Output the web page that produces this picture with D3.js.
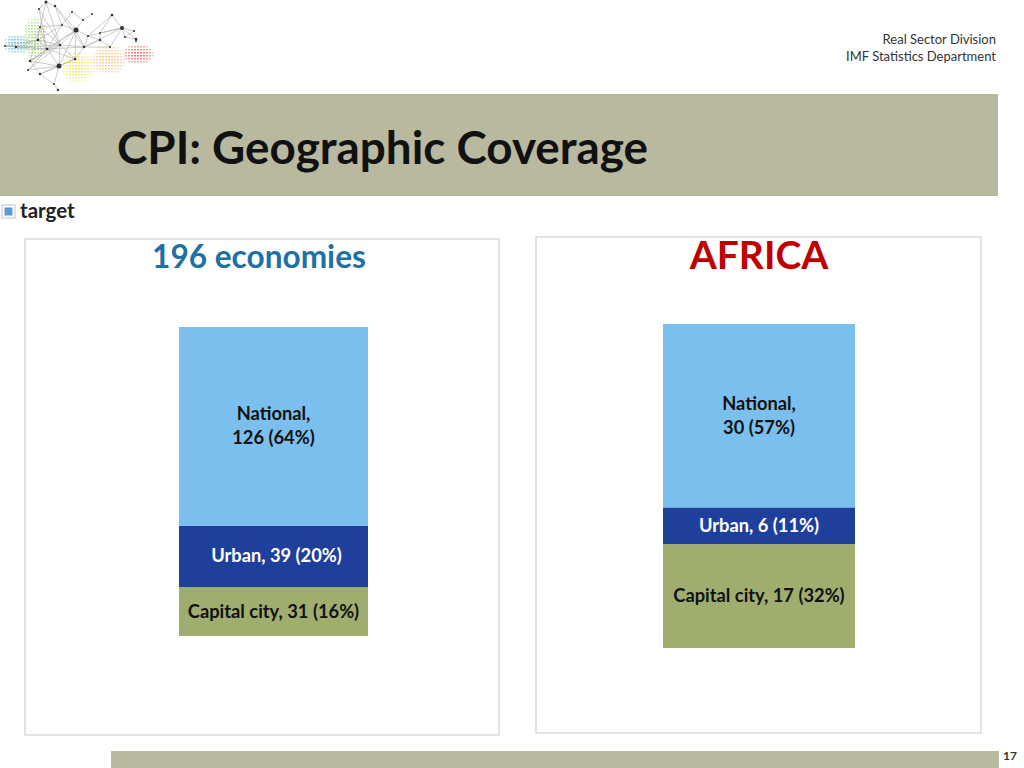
<!DOCTYPE html>
<html>
<head>
<meta charset="utf-8">
<script src="https://cdn.jsdelivr.net/npm/d3@7"></script>
<style>
  html, body { margin: 0; padding: 0; background: #fff; }
  svg { display: block; }
  text { font-family: Lato, "Open Sans", sans-serif; }
</style>
</head>
<body>
<div id="chart"></div>
<script>
const w = 1024;
const h = 768;

const categories = ["Capital city", "Urban", "National"];
const globalValues = [31, 39, 126];
const globalShares = [16, 20, 64];
const africaValues = [17, 6, 30];
const africaShares = [32, 11, 57];

const colors = { "Capital city": "#9fae6e", "Urban": "#1f3f9c", "National": "#7bbfee" };
const labelColors = { "Capital city": "#111", "Urban": "#fff", "National": "#111" };

// logo: [x, y, r]
const logoNodes = [
  [46,2,1.5],[55,6,1.2],[39,9,1],[76,30,2.5],[112,15,1.3],[122,28,2],[100,33,1],[134,31,1],[125,37,1],
  [136,39,1.3],[136,41,1],[84,47,1.3],[60,45,1.2],[47,49,1.3],[16,47,1.2],[5,46,1],[30,61,1.3],[59,66,2.5],
  [40,74,1.2],[28,70,1],[54,84,1],[58,90,1.2],[75,59,1.2],[100,40,1.2],[88,36,1],[62,25,1],[40,27,1],
  [72,12,1],[83,20,1],[38,40,1.3],[110,47,1],[92,14,1]
];
const logoLinks = [
  [0,1],[0,2],[0,12],[1,11],[2,12],[2,13],[3,12],[3,13],[3,25],[4,5],[4,6],[5,6],[5,7],[5,8],[5,9],[6,23],
  [7,8],[8,9],[9,10],[11,3],[11,12],[11,13],[11,23],[11,24],[12,13],[13,14],[13,15],[14,15],[13,16],[16,17],
  [16,18],[17,12],[17,18],[17,19],[18,20],[20,21],[17,20],[12,22],[13,22],[22,17],[23,24],[24,3],[25,26],
  [26,13],[26,12],[27,28],[28,3],[27,25],[29,13],[29,12],[29,26],[30,11],[30,5],[30,23],[31,28],[14,29],[15,29],[19,13],
  [0,26],[1,25],[1,3],[3,17],[3,22],[3,16],[25,13],[25,29],[26,16],[12,16],[12,14],[11,22],[11,5],[24,5],[24,4],[12,19],[22,18],[13,17]
];
const logoBlobs = [
  { color: "#4fc3d8", x0: 2, x1: 30, y0: 33, y1: 53 },
  { color: "#9fd85a", x0: 22, x1: 46, y0: 16, y1: 60 },
  { color: "#f5e04f", x0: 60, x1: 94, y0: 50, y1: 82 },
  { color: "#f8c078", x0: 90, x1: 126, y0: 44, y1: 74 },
  { color: "#ee5a5a", x0: 122, x1: 153, y0: 43, y1: 64 }
];

const svg = d3.select("#chart")
  .append("svg")
  .attr("width", w)
  .attr("height", h);

const blur = svg.append("defs").append("filter").attr("id", "soft");
blur.append("feGaussianBlur").attr("stdDeviation", 0.4);

// logo
const logo = svg.append("g").attr("class", "logo").attr("filter", "url(#soft)");
logoBlobs.forEach(b => {
  const cx = (b.x0 + b.x1) / 2;
  const cy = (b.y0 + b.y1) / 2;
  d3.range(b.x0, b.x1, 3).forEach(x => {
    d3.range(b.y0, b.y1, 3).forEach(y => {
      const dist = ((x - cx) / (b.x1 - cx)) ** 2 + ((y - cy) / (b.y1 - cy)) ** 2;
      if (dist > 1) return;
      logo.append("rect")
        .attr("x", x).attr("y", y)
        .attr("width", 2).attr("height", 1.5)
        .attr("fill", b.color)
        .attr("opacity", 0.9 - 0.6 * dist);
    });
  });
});
logo.selectAll("line")
  .data(logoLinks)
  .enter()
  .append("line")
  .attr("x1", d => logoNodes[d[0]][0])
  .attr("y1", d => logoNodes[d[0]][1])
  .attr("x2", d => logoNodes[d[1]][0])
  .attr("y2", d => logoNodes[d[1]][1])
  .attr("stroke", "#aaa")
  .attr("stroke-width", 0.6);
logo.selectAll("circle")
  .data(logoNodes)
  .enter()
  .append("circle")
  .attr("cx", d => d[0])
  .attr("cy", d => d[1])
  .attr("r", d => d[2])
  .attr("fill", "#333");

// header
svg.append("text")
  .attr("x", 996).attr("y", 44)
  .attr("text-anchor", "end")
  .attr("font-size", 13)
  .attr("fill", "#333")
  .text("Real Sector Division");
svg.append("text")
  .attr("x", 996).attr("y", 61)
  .attr("text-anchor", "end")
  .attr("font-size", 13)
  .attr("fill", "#333")
  .text("IMF Statistics Department");

svg.append("rect")
  .attr("x", 0).attr("y", 94)
  .attr("width", 998).attr("height", 102)
  .attr("fill", "#b9b9a0");
svg.append("text")
  .attr("x", 117).attr("y", 164)
  .attr("font-size", 45)
  .attr("font-weight", 700)
  .attr("fill", "#111")
  .attr("textLength", 531)
  .attr("lengthAdjust", "spacingAndGlyphs")
  .text("CPI: Geographic Coverage");

// stray "target" label
svg.append("rect")
  .attr("x", 2).attr("y", 205)
  .attr("width", 13).attr("height", 13)
  .attr("fill", "#fff")
  .attr("stroke", "#c4c4c4");
svg.append("rect")
  .attr("x", 4.5).attr("y", 207.5)
  .attr("width", 8).attr("height", 8)
  .attr("fill", "#5b9bd5");
svg.append("text")
  .attr("x", 20).attr("y", 218)
  .attr("font-size", 20.5)
  .attr("font-weight", 700)
  .attr("fill", "#222")
  .text("target");

function drawPanel(box, bar, values, shares) {
  svg.append("rect")
    .attr("x", box.x).attr("y", box.y)
    .attr("width", box.w).attr("height", box.h)
    .attr("fill", "#fff")
    .attr("stroke", "#d0d0d0")
    .attr("stroke-width", 1.2);

  const row = { key: "total" };
  categories.forEach((c, i) => row[c] = values[i]);
  const stacked = d3.stack().keys(categories)([row]);

  const y = d3.scaleLinear()
    .domain([0, d3.sum(values)])
    .range([bar.bottom, bar.top]);

  const g = svg.append("g");
  g.selectAll("rect")
    .data(stacked)
    .enter()
    .append("rect")
    .attr("x", bar.x)
    .attr("width", bar.w)
    .attr("y", d => y(d[0][1]))
    .attr("height", d => y(d[0][0]) - y(d[0][1]))
    .attr("fill", d => colors[d.key]);

  stacked.forEach((d, i) => {
    const label = g.append("text")
      .attr("text-anchor", "middle")
      .attr("font-size", 18.3)
      .attr("font-weight", 700)
      .attr("fill", labelColors[d.key]);
    const cx = bar.x + bar.w / 2 + bar.dx[i];
    const cy = (y(d[0][0]) + y(d[0][1])) / 2;
    const val = `${values[i]} (${shares[i]}%)`;
    if (d.key === "National") {
      label.append("tspan").attr("x", cx).attr("y", cy - 6).text(`${d.key},`);
      label.append("tspan").attr("x", cx).attr("y", cy + 18).text(val);
    } else {
      label.attr("x", cx).attr("y", cy + 6).text(`${d.key}, ${val}`);
    }
  });
}

drawPanel(
  { x: 25, y: 239, w: 474, h: 496 },
  { x: 179, w: 189, top: 327, bottom: 636, dx: [0, 3, 0] },
  globalValues, globalShares
);
drawPanel(
  { x: 536, y: 237, w: 445, h: 496 },
  { x: 663, w: 192, top: 324, bottom: 648, dx: [0, 0, 0] },
  africaValues, africaShares
);

svg.append("text")
  .attr("x", 259).attr("y", 268)
  .attr("text-anchor", "middle")
  .attr("font-size", 31.6)
  .attr("font-weight", 700)
  .attr("fill", "#1f70a8")
  .text("196 economies");
svg.append("text")
  .attr("x", 759).attr("y", 269)
  .attr("text-anchor", "middle")
  .attr("font-size", 39)
  .attr("font-weight", 700)
  .attr("fill", "#c00000")
  .text("AFRICA");

// footer
svg.append("rect")
  .attr("x", 111).attr("y", 751)
  .attr("width", 888).attr("height", 17)
  .attr("fill", "#b9b9a0");
svg.append("text")
  .attr("x", 1010).attr("y", 760)
  .attr("text-anchor", "middle")
  .attr("font-size", 12)
  .attr("font-weight", 700)
  .attr("fill", "#333")
  .text("17");
</script>
</body>
</html>
